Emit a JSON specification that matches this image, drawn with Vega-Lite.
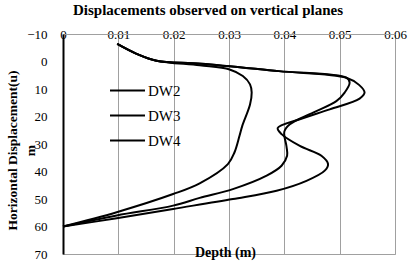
{
  "$schema": "https://vega.github.io/schema/vega-lite/v6.json",
  "width": 332,
  "height": 220,
  "autosize": "none",
  "padding": {"left": 63, "top": 34, "right": 22, "bottom": 10},
  "background": "white",
  "title": {"text": "Displacements observed on vertical planes", "font": "'Times New Roman', 'Liberation Serif', serif", "fontSize": 15, "fontWeight": "bold", "color": "black", "anchor": "middle", "dx": -21, "offset": 10},
  "config": {"view": {"stroke": "#a0a0a0"}, "axis": {"gridColor": "#a0a0a0", "gridWidth": 1, "gridOpacity": 1}},
  "datasets": {
    "lines": [
      {"s": "DW2", "x": 0.0098, "d": -6.4},
      {"s": "DW2", "x": 0.0133, "d": -2.8},
      {"s": "DW2", "x": 0.0169, "d": -0.3},
      {"s": "DW2", "x": 0.0247, "d": 1.4},
      {"s": "DW2", "x": 0.0301, "d": 2.9},
      {"s": "DW2", "x": 0.0325, "d": 5.3},
      {"s": "DW2", "x": 0.0338, "d": 8.3},
      {"s": "DW2", "x": 0.0341, "d": 11.3},
      {"s": "DW2", "x": 0.0338, "d": 15.6},
      {"s": "DW2", "x": 0.0324, "d": 23.4},
      {"s": "DW2", "x": 0.0319, "d": 27},
      {"s": "DW2", "x": 0.031, "d": 33},
      {"s": "DW2", "x": 0.0298, "d": 37.3},
      {"s": "DW2", "x": 0.0247, "d": 44.3},
      {"s": "DW2", "x": 0.0199, "d": 48.2},
      {"s": "DW2", "x": 0.0097, "d": 54.8},
      {"s": "DW2", "x": 0, "d": 60},
      {"s": "DW3", "x": 0.0098, "d": -6.4},
      {"s": "DW3", "x": 0.0133, "d": -2.8},
      {"s": "DW3", "x": 0.0169, "d": -0.3},
      {"s": "DW3", "x": 0.025, "d": 0.8},
      {"s": "DW3", "x": 0.039, "d": 3.5},
      {"s": "DW3", "x": 0.0512, "d": 5.9},
      {"s": "DW3", "x": 0.0518, "d": 7.7},
      {"s": "DW3", "x": 0.0509, "d": 11.3},
      {"s": "DW3", "x": 0.0494, "d": 14.4},
      {"s": "DW3", "x": 0.0452, "d": 18.6},
      {"s": "DW3", "x": 0.041, "d": 22.8},
      {"s": "DW3", "x": 0.04, "d": 25.5},
      {"s": "DW3", "x": 0.0404, "d": 31},
      {"s": "DW3", "x": 0.0405, "d": 34.3},
      {"s": "DW3", "x": 0.0395, "d": 37.9},
      {"s": "DW3", "x": 0.0368, "d": 41.5},
      {"s": "DW3", "x": 0.0307, "d": 46.4},
      {"s": "DW3", "x": 0.0247, "d": 49.6},
      {"s": "DW3", "x": 0.0199, "d": 52.4},
      {"s": "DW3", "x": 0.0097, "d": 56},
      {"s": "DW3", "x": 0, "d": 60},
      {"s": "DW4", "x": 0.0098, "d": -6.4},
      {"s": "DW4", "x": 0.0133, "d": -2.8},
      {"s": "DW4", "x": 0.0169, "d": -0.3},
      {"s": "DW4", "x": 0.025, "d": 0.8},
      {"s": "DW4", "x": 0.039, "d": 3.5},
      {"s": "DW4", "x": 0.0512, "d": 5.9},
      {"s": "DW4", "x": 0.0535, "d": 8.5},
      {"s": "DW4", "x": 0.0545, "d": 11.3},
      {"s": "DW4", "x": 0.0536, "d": 13.5},
      {"s": "DW4", "x": 0.0482, "d": 17.4},
      {"s": "DW4", "x": 0.0428, "d": 21},
      {"s": "DW4", "x": 0.0388, "d": 24.2},
      {"s": "DW4", "x": 0.0395, "d": 26.4},
      {"s": "DW4", "x": 0.0428, "d": 30.7},
      {"s": "DW4", "x": 0.0467, "d": 34.3},
      {"s": "DW4", "x": 0.0479, "d": 37.3},
      {"s": "DW4", "x": 0.0473, "d": 39.7},
      {"s": "DW4", "x": 0.044, "d": 43.4},
      {"s": "DW4", "x": 0.0386, "d": 47},
      {"s": "DW4", "x": 0.0307, "d": 50},
      {"s": "DW4", "x": 0.0199, "d": 53.6},
      {"s": "DW4", "x": 0.0097, "d": 57},
      {"s": "DW4", "x": 0, "d": 60}
    ]
  },
  "layer": [
    {
      "mark": {"type": "rule", "color": "black", "strokeWidth": 2},
      "encoding": {
        "y": {
          "datum": 0, "type": "quantitative",
          "scale": {"domain": [-10, 70], "reverse": true, "nice": false, "zero": false},
          "axis": {
            "values": [-10, 0, 10, 20, 30, 40, 50, 60, 70],
            "ticks": false, "tickSize": 0, "domain": true, "domainColor": "black", "domainWidth": 2,
            "labelFont": "'Times New Roman', 'Liberation Serif', serif", "labelFontSize": 13, "labelColor": "black", "labelPadding": 16, "labelFlush": false, "labelOverlap": false,
            "title": ["Horizontal Displacement(u)", "m"], "titleFont": "'Times New Roman', 'Liberation Serif', serif", "titleFontSize": 13.5, "titleFontWeight": "bold", "titleColor": "black",
            "titleLineHeight": 18, "titleX": -51, "titleY": 116, "titleAngle": -90, "titleBaseline": "middle"
          }
        }
      }
    },
    {
      "data": {"name": "lines"},
      "mark": {"type": "line", "interpolate": "catmull-rom", "strokeWidth": 2},
      "encoding": {
        "x": {
          "field": "x", "type": "quantitative",
          "scale": {"domain": [0, 0.06], "nice": false, "zero": false},
          "axis": {
            "orient": "top", "values": [0, 0.01, 0.02, 0.03, 0.04, 0.05, 0.06], "format": "~g",
            "ticks": false, "tickSize": 0, "domain": true, "domainColor": "#a0a0a0", "domainWidth": 1,
            "labelFont": "'Times New Roman', 'Liberation Serif', serif", "labelFontSize": 13, "labelColor": "black",
            "labelBaseline": "middle", "labelPadding": 0, "labelFlush": false, "labelOverlap": false,
            "title": "Depth (m)", "titleFont": "'Times New Roman', 'Liberation Serif', serif", "titleFontSize": 14, "titleFontWeight": "bold", "titleColor": "black",
            "titleBaseline": "middle", "titleY": 218.5, "titleX": 162
          }
        },
        "y": {
          "field": "d", "type": "quantitative",
          "scale": {"domain": [-10, 70], "reverse": true, "nice": false, "zero": false},
          "axis": {
            "values": [-10, 0, 10, 20, 30, 40, 50, 60, 70],
            "ticks": false, "tickSize": 0, "domain": true, "domainColor": "black", "domainWidth": 2,
            "labelFont": "'Times New Roman', 'Liberation Serif', serif", "labelFontSize": 13, "labelColor": "black", "labelPadding": 16, "labelFlush": false, "labelOverlap": false,
            "title": ["Horizontal Displacement(u)", "m"], "titleFont": "'Times New Roman', 'Liberation Serif', serif", "titleFontSize": 13.5, "titleFontWeight": "bold", "titleColor": "black",
            "titleLineHeight": 18, "titleX": -51, "titleY": 116, "titleAngle": -90, "titleBaseline": "middle"
          }
        },
        "order": {"field": "d", "type": "quantitative"},
        "color": {
          "field": "s", "type": "nominal",
          "scale": {"domain": ["DW2", "DW3", "DW4"], "range": ["black", "black", "black"]},
          "legend": {
            "title": null, "orient": "none", "legendX": 54.5, "legendY": 46.5, "padding": 0,
            "symbolType": "M-2,0H2", "symbolSize": 306, "symbolStrokeWidth": 2, "symbolStrokeColor": "black",
            "labelFont": "'Times New Roman', 'Liberation Serif', serif", "labelFontSize": 15, "labelColor": "black", "labelOffset": 10.5,
            "rowPadding": 7
          }
        }
      }
    }
  ]
}
